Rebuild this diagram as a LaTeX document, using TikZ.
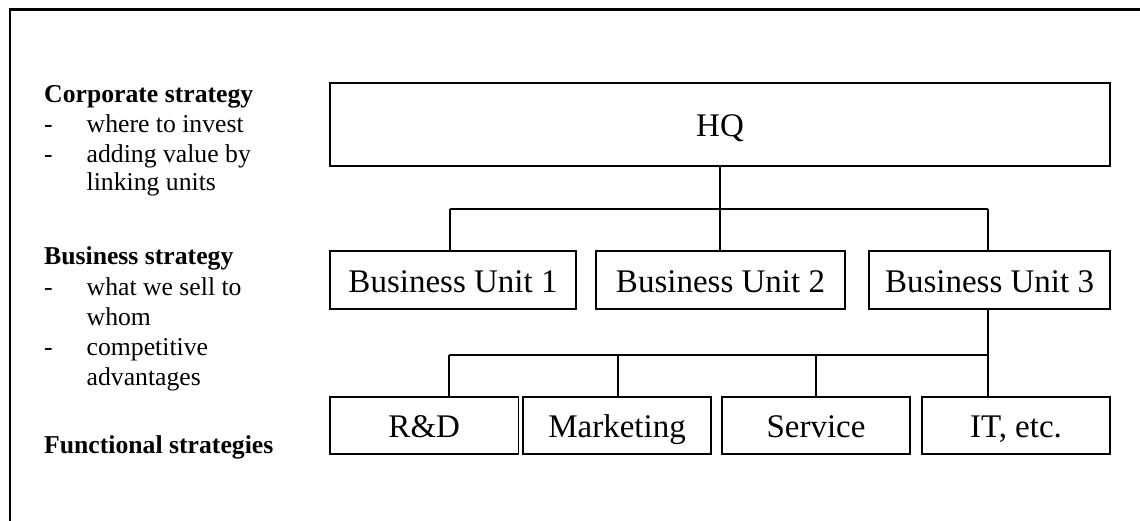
\documentclass[tikz,border=0pt]{standalone}
\usepackage{fontspec}
\setmainfont{Liberation Serif}
\begin{document}
\begin{tikzpicture}[x=1pt,y=-1pt,
  box/.style={draw, line width=1.6pt, inner sep=0pt, text height=26pt, text depth=2pt, font=\fontsize{33}{38}\selectfont},
  conn/.style={line width=1.3pt},
  lbl/.style={anchor=base west, inner sep=0pt, font=\fontsize{25.7}{30}\selectfont},
  hdr/.style={lbl, font=\fontsize{25.7}{30}\selectfont\bfseries}]
\useasboundingbox (0,0) rectangle (1140,521);
% frame
\draw[line width=2.4pt] (10,525) -- (10,9.5) -- (1145,9.5);
% boxes
\node[box, minimum width=780pt, minimum height=83pt] (HQ) at (720,124.5) {HQ};
\node[box, minimum width=246pt, minimum height=58pt] (BU1) at (453,280) {Business Unit 1};
\node[box, minimum width=249pt, minimum height=58pt] (BU2) at (720.5,280) {Business Unit 2};
\node[box, minimum width=241pt, minimum height=58pt] (BU3) at (989.5,280) {Business Unit 3};
\node[box, minimum width=188.5pt, minimum height=57pt] (RD) at (424.25,425.5) {R\&D};
\node[box, minimum width=188pt, minimum height=57pt] (MK) at (617,425.5) {Marketing};
\node[box, minimum width=188pt, minimum height=57pt] (SV) at (816,425.5) {Service};
\node[box, minimum width=188pt, minimum height=57pt] (IT) at (1016,425.5) {IT, etc.};
% upper connectors
\coordinate (j1) at (450,209);
\coordinate (j2) at (720,209);
\coordinate (j3) at (988,209);
\draw[conn] (j1) -- (j3);
\draw[conn] (HQ.south) -- (j2);
\draw[conn] (j1) -- (j1 |- BU1.north);
\draw[conn] (j2) -- (j2 |- BU2.north);
\draw[conn] (j3) -- (j3 |- BU3.north);
% lower connectors
\coordinate (k1) at (449,355);
\coordinate (k2) at (618,355);
\coordinate (k3) at (816,355);
\coordinate (k4) at (988,355);
\draw[conn] (k1) -- (k4);
\draw[conn] (k4 |- BU3.south) -- (k4);
\draw[conn] (k1) -- (k1 |- RD.north);
\draw[conn] (k2) -- (k2 |- MK.north);
\draw[conn] (k3) -- (k3 |- SV.north);
\draw[conn] (k4) -- (k4 |- IT.north);
% left texts
\node[hdr] (cs) at (44,103) {Corporate strategy};
\node[lbl] (d1) at (44,133) {-};
\node[lbl] (t1) at (86.5,133) {where to invest};
\node[lbl] (d2) at (44,162.5) {-};
\node[lbl] (t2) at (86.5,162.5) {adding value by};
\node[lbl] (t3) at (86.5,191) {linking units};
\node[hdr] (bs) at (44,265) {Business strategy};
\node[lbl] (d3) at (44,295) {-};
\node[lbl] (t4) at (86.5,295) {what we sell to};
\node[lbl] (t5) at (86.5,325) {whom};
\node[lbl] (d4) at (44,355) {-};
\node[lbl] (t6) at (86.5,355) {competitive};
\node[lbl] (t7) at (86.5,385) {advantages};
\node[hdr] (fs) at (44,453) {Functional strategies};
\end{tikzpicture}
\end{document}
